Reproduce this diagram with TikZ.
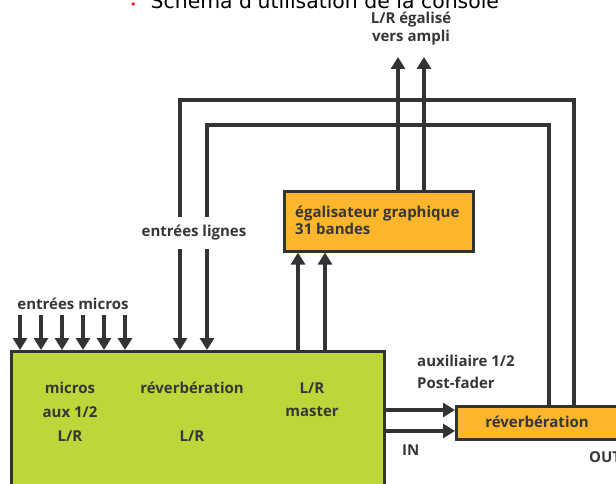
\documentclass[tikz,border=0pt]{standalone}
\usepackage{fontspec}
\setmainfont{Open Sans}
\newfontfamily\titlefont{DejaVu Sans}
\usetikzlibrary{arrows.meta}
\definecolor{mixgreen}{HTML}{BED63A}
\definecolor{eqorange}{HTML}{FBB62B}
\definecolor{ink}{HTML}{333333}
\definecolor{txt}{HTML}{363636}
\begin{document}
\begin{tikzpicture}[x=1pt,y=-1pt,
  wire/.style={draw=ink,line width=3.8pt,line join=miter},
  arr/.style={wire,-{Triangle[width=14pt,length=12pt]}},
  lbl/.style={text=txt,font=\bfseries\fontsize{15}{17}\selectfont,inner sep=0pt},
  box/.style={draw=ink,line width=2.6pt,inner sep=0pt,anchor=north west}]
\useasboundingbox (0,0) rectangle (616,484);
% title (cut at top)
\node[anchor=base west,inner sep=0pt,font=\titlefont\fontsize{20.4}{22}\selectfont] (title) at (130,8.5)
  {\textcolor{red}{\fontsize{11}{11}\selectfont •}\hspace{14pt}Schéma d'utilisation de la console};
% boxes
\node[box,fill=mixgreen,minimum width=373pt,minimum height=160pt] (mix) at (10,350) {};
\node[box,fill=eqorange,minimum width=189pt,minimum height=60pt] (eq) at (283,190) {};
\node[box,fill=eqorange,minimum width=200pt,minimum height=33pt] (rev) at (455,405) {};
% coordinates
\coordinate (amp1) at (398,57);
\coordinate (amp2) at (424,57);
% loops from reverb out to line inputs
\draw[arr] (574,0 |- rev.north) |- (180,100) -- (180,0 |- mix.north);
\draw[arr] (549,0 |- rev.north) |- (207,125) -- (207,0 |- mix.north);
% eq outputs
\draw[arr] (398,0 |- eq.north) -- (amp1);
\draw[arr] (424,0 |- eq.north) -- (amp2);
% mixer to eq
\draw[arr] (298,0 |- mix.north) -- (298,0 |- eq.south);
\draw[arr] (325,0 |- mix.north) -- (325,0 |- eq.south);
% mic inputs
\foreach \i/\xx in {1/20,2/41,3/62,4/83,5/104,6/125}{
  \coordinate (mic\i) at (\xx,315);
  \draw[arr] (mic\i) -- (\xx,0 |- mix.north);
}
% mixer to reverb
\draw[arr] (mix.east |- 0,410) -- (rev.west |- 0,410);
\draw[arr] (mix.east |- 0,431) -- (rev.west |- 0,431);
% labels
\node[lbl,fill=white,inner ysep=8pt,inner xsep=2pt] (lignes) at (194,233) {entrées lignes};
\node[lbl] (micros) at (73,304) {entrées micros};
\node[lbl] (ampa) at (411,20) {L/R égalisé};
\node[lbl] (ampb) at (411,38) {vers ampli};
\node[lbl,anchor=base west] (eqa) at (295,217) {égalisateur graphique};
\node[lbl,anchor=base west] (eqb) at (295,234) {31 bandes};
\node[lbl] (m1) at (70,388) {micros};
\node[lbl] (m2) at (70,412) {aux 1/2};
\node[lbl] (m3) at (70,436) {L/R};
\node[lbl] (r1) at (192,388) {réverbération};
\node[lbl] (r2) at (192,436) {L/R};
\node[lbl] (l1) at (312,388) {L/R};
\node[lbl] (l2) at (312,412) {master};
\node[lbl,anchor=west] (aux) at (417,361) {auxiliaire 1/2};
\node[lbl,anchor=west] (post) at (417,383) {Post-fader};
\node[lbl] (revt) at (537,422) {réverbération};
\node[lbl,anchor=west] (in) at (402,450) {IN};
\node[lbl,anchor=west] (out) at (589,457) {OUT};
\end{tikzpicture}
\end{document}
